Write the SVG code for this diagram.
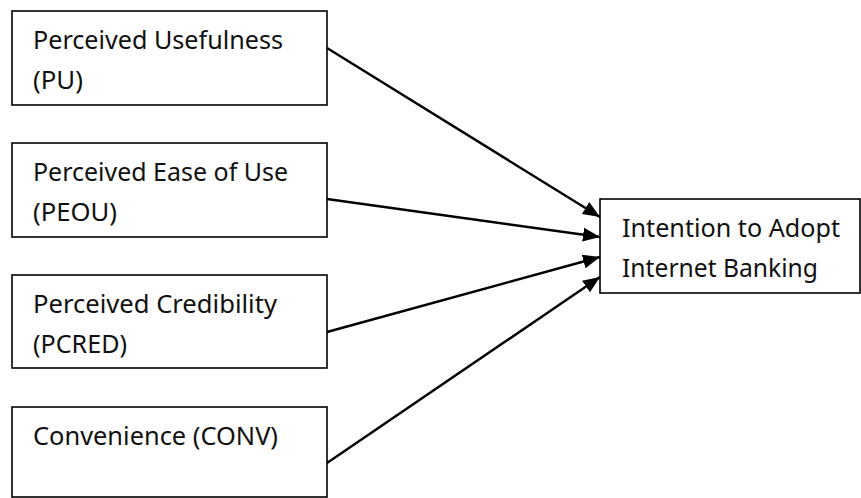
<svg xmlns="http://www.w3.org/2000/svg" width="861" height="498" viewBox="0 0 861 498">
<style>
.box{fill:#fff;stroke:#000;stroke-width:1.6}
.t{font-family:"Noto Sans","Open Sans","Liberation Sans",sans-serif;font-size:24.5px;fill:#111}
.c{stroke:#000;stroke-width:2.4;fill:none}
</style>
<defs>
<marker id="ah" markerUnits="userSpaceOnUse" markerWidth="18" markerHeight="14" refX="17" refY="7" orient="auto">
<path d="M0,0 L17,7 L0,14 z" fill="#000"/>
</marker>
<clipPath id="clipT"><rect x="600" y="199" width="260" height="84"/></clipPath>
</defs>
<rect width="861" height="498" fill="#fff"/>
<g id="connectors">
<line class="c" x1="327" y1="48" x2="600" y2="217" marker-end="url(#ah)"/>
<line class="c" x1="327" y1="199" x2="600" y2="237" marker-end="url(#ah)"/>
<line class="c" x1="327" y1="332" x2="600" y2="257" marker-end="url(#ah)"/>
<line class="c" x1="327" y1="463" x2="600" y2="277" marker-end="url(#ah)"/>
</g>
<g id="pu">
<rect class="box" x="12" y="11" width="315" height="94"/>
<text class="t" x="33" y="49" textLength="250" lengthAdjust="spacingAndGlyphs">Perceived Usefulness</text>
<text class="t" x="33" y="89" textLength="50" lengthAdjust="spacingAndGlyphs">(PU)</text>
</g>
<g id="peou">
<rect class="box" x="12" y="143" width="315" height="94"/>
<text class="t" x="33" y="181" textLength="255" lengthAdjust="spacingAndGlyphs">Perceived Ease of Use</text>
<text class="t" x="33" y="221" textLength="84" lengthAdjust="spacingAndGlyphs">(PEOU)</text>
</g>
<g id="pcred">
<rect class="box" x="12" y="275" width="315" height="93"/>
<text class="t" x="33" y="313" textLength="244" lengthAdjust="spacingAndGlyphs">Perceived Credibility</text>
<text class="t" x="33" y="353" textLength="94" lengthAdjust="spacingAndGlyphs">(PCRED)</text>
</g>
<g id="conv">
<rect class="box" x="12" y="407" width="315" height="90"/>
<text class="t" x="33" y="445" textLength="245" lengthAdjust="spacingAndGlyphs">Convenience (CONV)</text>
</g>
<g id="intention">
<rect class="box" x="600" y="199" width="260" height="94"/>
<g clip-path="url(#clipT)">
<text class="t" x="622" y="237" textLength="218" lengthAdjust="spacingAndGlyphs">Intention to Adopt</text>
<text class="t" x="622" y="277" textLength="196" lengthAdjust="spacingAndGlyphs">Internet Banking</text>
</g>
</g>
</svg>
